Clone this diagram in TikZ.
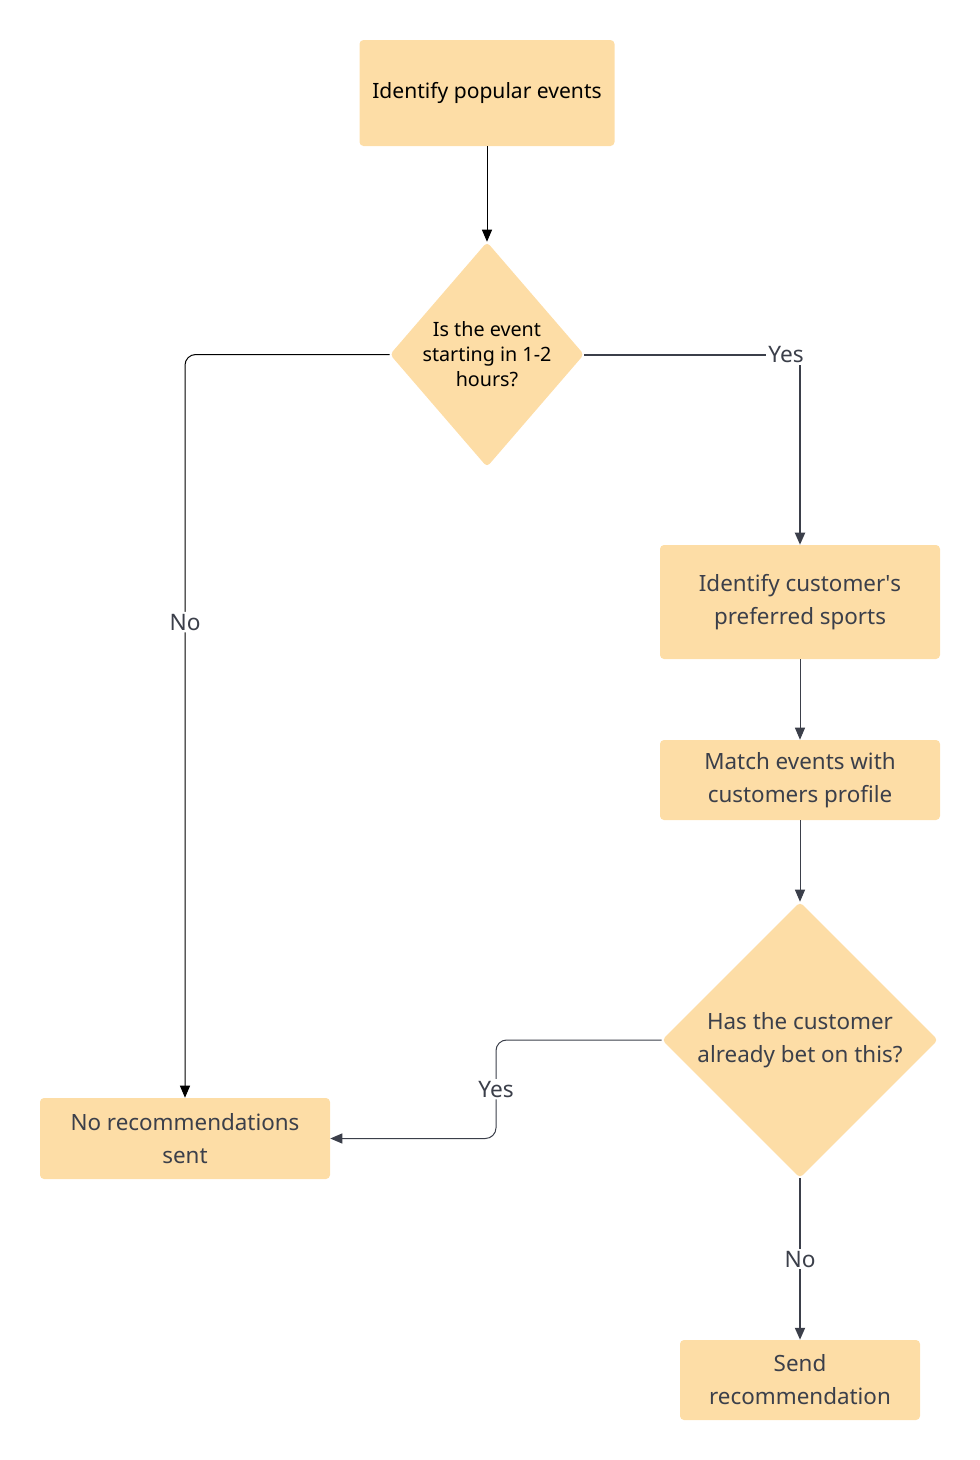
\documentclass[tikz,border=0pt]{standalone}
\usepackage{fontspec}
\setmainfont{Noto Sans}
\usetikzlibrary{shapes.geometric,arrows.meta}

\definecolor{boxfill}{HTML}{FDDDA6}
\definecolor{inkgray}{HTML}{3B3F4A}

\tikzset{
	stepbox/.style={fill=boxfill, rounded corners=3pt, align=center, inner sep=0pt,
		text=inkgray, font=\fontsize{16.8}{24.75}\selectfont},
	askbox/.style={diamond, fill=boxfill, rounded corners=3pt, align=center, inner sep=0pt,
		text=inkgray, font=\fontsize{16.8}{24.75}\selectfont},
	flowline/.style={draw=inkgray, line width=1.5pt, -{Triangle[length=9pt,width=7.5pt]}},
	thinline/.style={draw=inkgray, line width=0.75pt, -{Triangle[length=9pt,width=7.5pt]}},
	blackline/.style={draw=black, line width=0.75pt, -{Triangle[length=9pt,width=7.5pt]}},
	edgelabel/.style={fill=white, inner sep=1.5pt, text=inkgray, font=\fontsize{17}{18}\selectfont}
}

\begin{document}
\begin{tikzpicture}[x=0.75pt, y=-0.75pt]
	
	% --- Event recommendation flow ---
	% Coordinates are given in pixels of the 980x1460 layout (1px = 0.75pt).
	\def\u{0.75pt} % one pixel
	
	% page frame
	\useasboundingbox (0,0) rectangle (980,1460);
	
	% Steps and decisions
	\node[stepbox, text=black, minimum width=255*\u, minimum height=106*\u,
		font=\fontsize{15.8}{24.75}\selectfont] (ident) at (487,93) {Identify popular events};
	\node[askbox, text=black, minimum width=190*\u, minimum height=225*\u,
		font=\fontsize{14.8}{18.75}\selectfont] (startq) at (487,354.5) {Is the event\\starting in 1-2\\hours?};
	\node[stepbox, minimum width=280*\u, minimum height=114*\u] (prefs) at (800,602) {Identify customer\textquotesingle s\\preferred sports};
	\node[stepbox, minimum width=280*\u, minimum height=80*\u] (match) at (800,780) {Match events with\\customers profile};
	\node[askbox, minimum width=276*\u, minimum height=276*\u] (betq) at (800,1040) {Has the customer\\already bet on this?};
	\node[stepbox, minimum width=290*\u, minimum height=81*\u] (norec) at (185,1138.5) {No recommendations\\sent};
	\node[stepbox, minimum width=240*\u, minimum height=80*\u] (send) at (800,1380) {Send\\recommendation};
	
	% Connectors
	\draw[blackline] (ident) -- (startq);
	
	% event starting soon -> yes
	\draw[flowline] (startq.east) -- (startq.east -| prefs.north) -- (prefs.north);
	\path (startq.east -| prefs.north) ++(-14,0) node[edgelabel] {Yes};
	
	% event not starting soon -> no
	\draw[blackline, rounded corners=8pt] (startq.west) -- (startq.west -| norec.north)
		-- node[pos=0.36, edgelabel] {No} (norec.north);
	
	\draw[thinline] (prefs) -- (match);
	\draw[thinline] (match) -- (betq);
	
	% already bet -> yes
	\coordinate (yesbend) at (496,1040);
	\draw[thinline, rounded corners=8pt] (betq.west) -- (yesbend)
		-- node[edgelabel] {Yes} (yesbend |- norec.east) -- (norec.east);
	
	% not bet yet -> no
	\draw[flowline] (betq) -- node[edgelabel] {No} (send);
	
\end{tikzpicture}
\end{document}
